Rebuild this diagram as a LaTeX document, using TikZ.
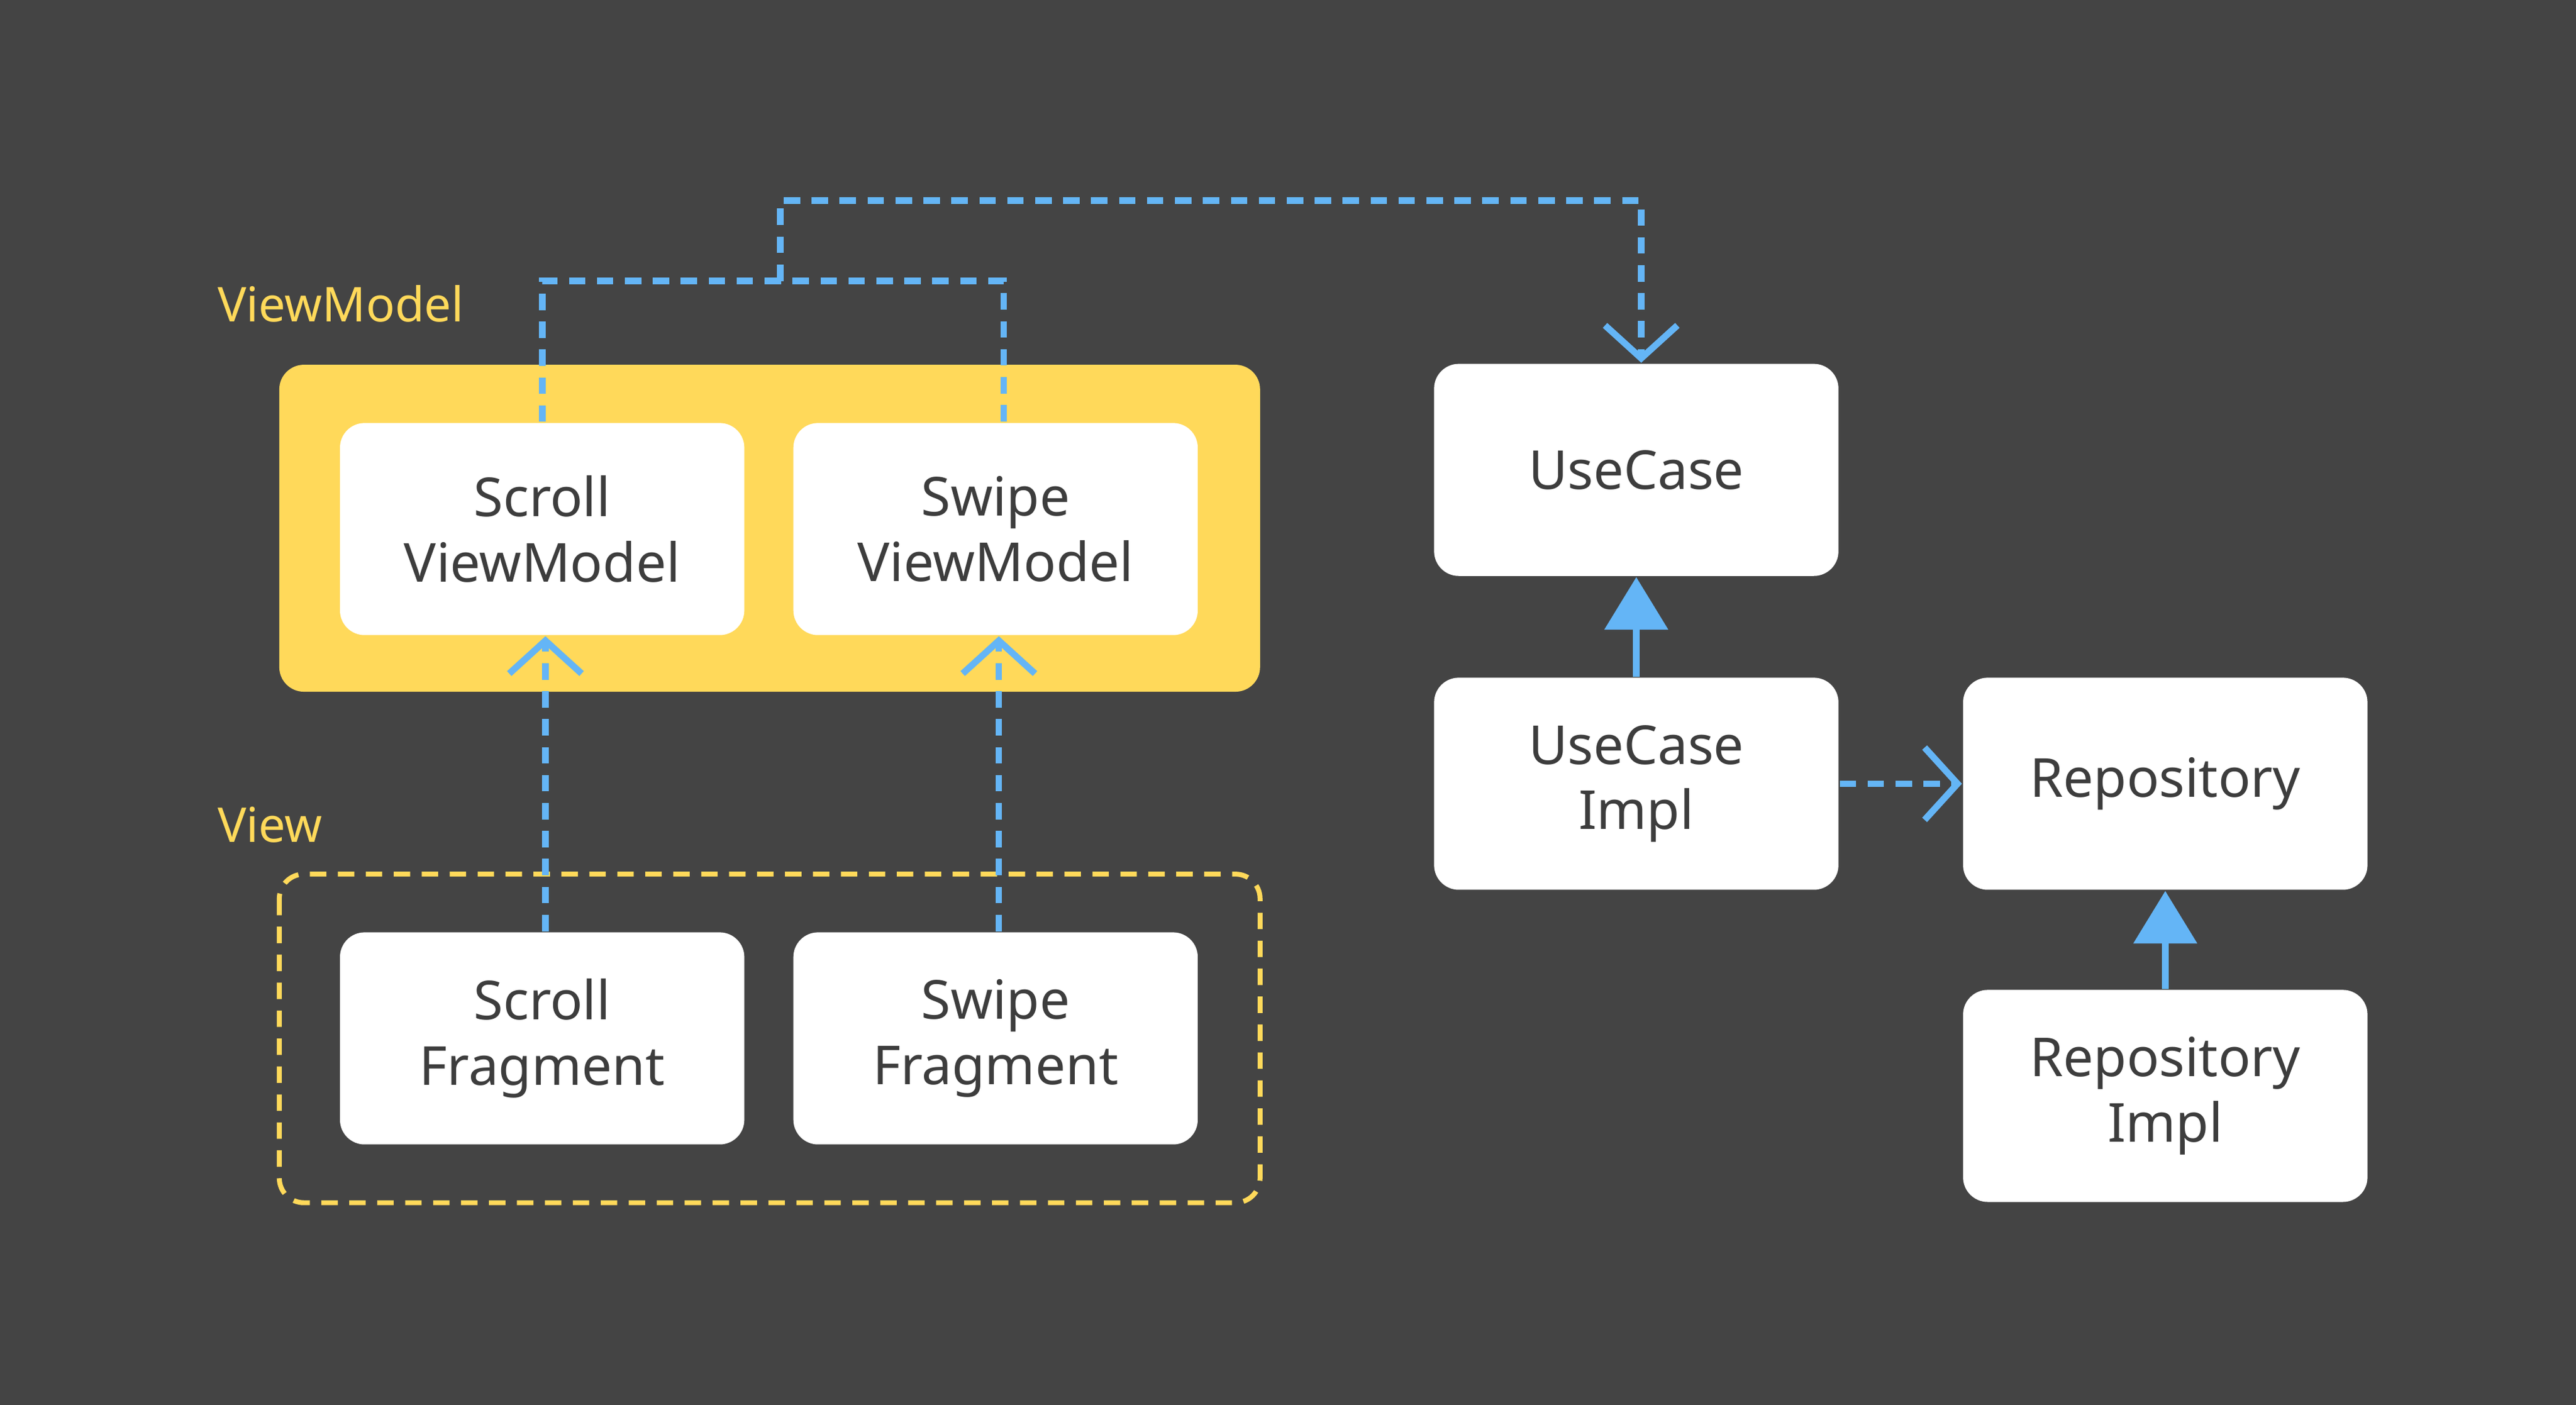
\documentclass[tikz,border=0pt]{standalone}
\usepackage{fontspec}
\setmainfont{Noto Sans}
\usetikzlibrary{arrows.meta}
\definecolor{bgcolor}{HTML}{444444}
\definecolor{vmyellow}{HTML}{FFD95A}
\definecolor{linkblue}{HTML}{64B5F6}
\definecolor{boxtext}{HTML}{3D3D3D}
\tikzset{
  box/.style={draw=none,fill=white,rounded corners=0.15cm,minimum width=2.46cm,minimum height=1.29cm,
    align=center,text=boxtext,font=\fontsize{9.3}{11.3}\selectfont\bfseries},
  group label/.style={anchor=west,text=vmyellow,font=\fontsize{8.3}{10}\selectfont\bfseries},
  dep/.style={linkblue,line width=0.04cm,dash pattern=on 0.1cm off 0.07cm,
    -{Straight Barb[length=0.2cm,width=0.44cm,line width=0.04cm]}},
  link/.style={linkblue,line width=0.04cm,dash pattern=on 0.1cm off 0.07cm},
  impl/.style={linkblue,line width=0.04cm,-{Triangle[length=0.32cm,width=0.38cm]}}
}
\begin{document}
\begin{tikzpicture}[x=0.01cm,y=-0.01cm]
\fill[bgcolor] (0,0) rectangle (1568,855);
\useasboundingbox (0,0) rectangle (1568,855);
% groups
\fill[vmyellow,rounded corners=0.15cm] (170,222) rectangle (767,421);
\draw[vmyellow,line width=0.03cm,dash pattern=on 0.1cm off 0.07cm,rounded corners=0.15cm] (170,532) rectangle (767,732);
\node[group label] (vmlabel) at (120,185) {ViewModel};
\node[group label] (viewlabel) at (120,502) {View};
% boxes
\node[box] (scrollvm) at (330,322) {Scroll\\ViewModel};
\node[box] (swipevm) at (606,322) {Swipe\\ViewModel};
\node[box] (scrollfr) at (330,632) {Scroll\\Fragment};
\node[box] (swipefr) at (606,632) {Swipe\\Fragment};
\node[box] (usecase) at (996,286) {UseCase};
\node[box] (usecaseimpl) at (996,477) {UseCase\\Impl};
\node[box] (repo) at (1318,477) {Repository};
\node[box] (repoimpl) at (1318,667) {Repository\\Impl};
% connectors
\coordinate (joint) at (475,171);
\draw[link] (scrollvm.north -| 330,0) -- (330,171) -- (611,171) -- (swipevm.north -| 611,0);
\draw[dep] (joint) -- (475,122) -- (999,122) -- (usecase.north -| 999,0);
\draw[dep] (scrollfr.north -| 332,0) -- (scrollvm.south -| 332,0);
\draw[dep] (swipefr.north -| 608,0) -- (swipevm.south -| 608,0);
\draw[impl] (usecaseimpl) -- (usecase);
\draw[dep] (usecaseimpl) -- (repo);
\draw[impl] (repoimpl) -- (repo);
\end{tikzpicture}
\end{document}
